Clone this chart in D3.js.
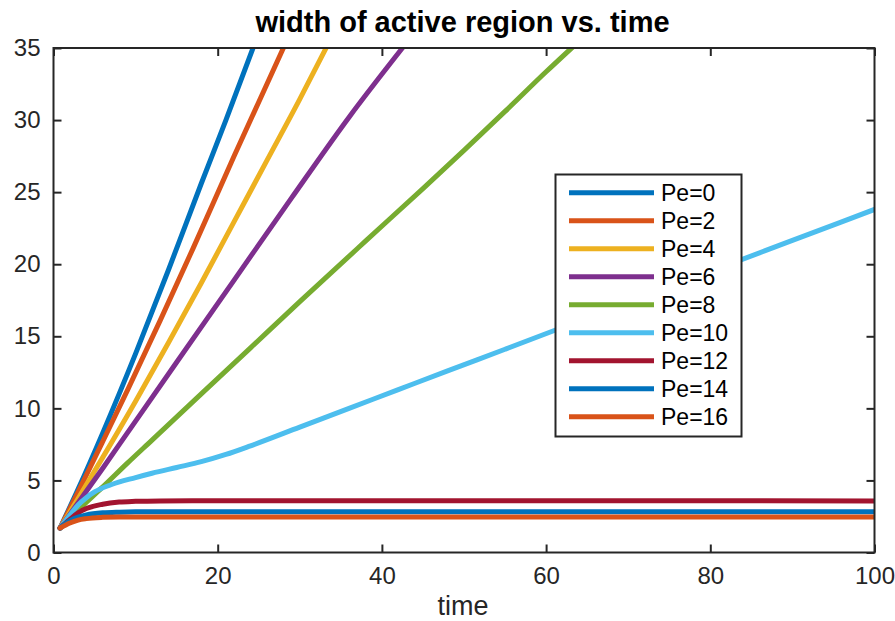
<!DOCTYPE html>
<html>
<head>
<meta charset="utf-8">
<script src="https://cdn.jsdelivr.net/npm/d3@7"></script>
<style>
  body { margin: 0; background: #fff; }
  text { font-family: "Liberation Sans", Arial, Helvetica, sans-serif; fill: #262626; }
</style>
</head>
<body>
<svg width="895" height="621"></svg>
<script>
// values (time, width)
var labels = ["Pe=0", "Pe=2", "Pe=4", "Pe=6", "Pe=8", "Pe=10", "Pe=12", "Pe=14", "Pe=16"];

var timePe0 = [0.8, 3, 6, 10, 14, 18, 21, 24.3];
var widthPe0 = [1.7, 4.4, 8.3, 13.8, 19.6, 25.6, 30.0, 35];

var timePe2 = [0.8, 3, 6, 9, 13, 17, 22, 28];
var widthPe2 = [1.7, 4.2, 7.7, 11.25, 16.1, 21.1, 27.5, 35];

var timePe4 = [0.8, 3, 6, 10, 14, 18, 22, 26, 30, 33.2];
var widthPe4 = [1.7, 3.75, 6.6, 10.5, 14.55, 18.7, 22.95, 27.2, 31.45, 35];

var timePe6 = [0.8, 3, 6, 9, 15, 22, 29, 36, 42.5];
var widthPe6 = [1.7, 3.45, 5.85, 8.3, 13.2, 18.9, 24.6, 30.2, 35];

var timePe8 = [0.8, 3, 6, 9, 12, 18, 24, 30, 38, 45, 50, 55, 60, 63.3];
var widthPe8 = [1.7, 2.95, 4.55, 6.2, 7.8, 11.0, 14.2, 17.4, 21.6, 25.25, 27.9, 30.6, 33.35, 35.1];

var timePe10 = [0.8, 2, 3, 4, 5, 7, 10, 12, 15, 18, 21, 24, 30, 36, 42, 48, 55, 61, 70, 80, 90, 100];
var widthPe10 = [1.7, 2.6, 3.3, 3.8, 4.2, 4.7, 5.2, 5.5, 5.9, 6.3, 6.8, 7.4, 8.7, 10.0, 11.3, 12.6, 14.1, 15.4, 17.4, 19.5, 21.65, 23.8];

var timePe12 = [0.8, 2, 3, 4, 6, 8, 10, 13, 20, 100];
var widthPe12 = [1.7, 2.3, 2.75, 3.05, 3.35, 3.5, 3.55, 3.58, 3.59, 3.58];

var timePe14 = [0.8, 2, 3, 4, 6, 8, 10, 100];
var widthPe14 = [1.7, 2.2, 2.45, 2.6, 2.75, 2.8, 2.82, 2.82];

var timePe16 = [0.8, 2, 3, 4, 6, 8, 100];
var widthPe16 = [1.7, 2.05, 2.25, 2.35, 2.44, 2.47, 2.47];

var xTicks = [0, 20, 40, 60, 80, 100];
var yTicks = [0, 5, 10, 15, 20, 25, 30, 35];

var colors = ["#0072BD", "#D95319", "#EDB120", "#7E2F8E", "#77AC30", "#4DBEEE", "#A2142F", "#0072BD", "#D95319"];

var times = [timePe0, timePe2, timePe4, timePe6, timePe8, timePe10, timePe12, timePe14, timePe16];
var widths = [widthPe0, widthPe2, widthPe4, widthPe6, widthPe8, widthPe10, widthPe12, widthPe14, widthPe16];

var series = labels.map(function(l, i) {
  return { label: l, color: colors[i], pts: times[i].map(function(t, j) { return [t, widths[i][j]]; }) };
});

var plotLeft = 53.5, plotRight = 874.5, plotTop = 48, plotBottom = 552.5;
var svg = d3.select("svg");

var x = d3.scaleLinear().domain([0, 100]).range([plotLeft, plotRight]);
var y = d3.scaleLinear().domain([0, 35]).range([plotBottom, plotTop]);

svg.append("clipPath").attr("id", "plotclip")
  .append("rect").attr("x", plotLeft).attr("y", plotTop)
  .attr("width", plotRight - plotLeft).attr("height", plotBottom - plotTop);

var line = d3.line()
  .x(function(d) { return x(d[0]); })
  .y(function(d) { return y(d[1]); })
  .curve(d3.curveMonotoneX);

svg.append("g").attr("clip-path", "url(#plotclip)")
  .selectAll("path")
  .data(series)
  .join("path")
  .attr("d", function(d) { return line(d.pts); })
  .attr("fill", "none")
  .attr("stroke", function(d) { return d.color; })
  .attr("stroke-width", 5)
  .attr("stroke-linejoin", "round")
  .attr("stroke-linecap", "round");

// axes, ticks inward on all four sides
var axisColor = "#262626";
var tickLen = 8;

function styleAxis(g) {
  g.select(".domain").remove();
  g.selectAll("line").attr("stroke", axisColor).attr("stroke-width", 2);
  g.selectAll("text").attr("font-size", 24).attr("fill", axisColor).attr("font-family", null);
}

svg.append("g").attr("transform", "translate(0," + plotBottom + ")")
  .call(d3.axisBottom(x).tickValues(xTicks).tickSize(-tickLen).tickPadding(14))
  .call(styleAxis);

svg.append("g").attr("transform", "translate(0," + plotTop + ")")
  .call(d3.axisTop(x).tickValues(xTicks).tickSize(-tickLen).tickFormat(""))
  .call(styleAxis);

svg.append("g").attr("transform", "translate(" + plotLeft + ",0)")
  .call(d3.axisLeft(y).tickValues(yTicks).tickSize(-tickLen).tickPadding(13))
  .call(styleAxis);

svg.append("g").attr("transform", "translate(" + plotRight + ",0)")
  .call(d3.axisRight(y).tickValues(yTicks).tickSize(-tickLen).tickFormat(""))
  .call(styleAxis);

svg.append("rect")
  .attr("x", plotLeft).attr("y", plotTop)
  .attr("width", plotRight - plotLeft).attr("height", plotBottom - plotTop)
  .attr("fill", "none").attr("stroke", axisColor).attr("stroke-width", 2);

// title and label
svg.append("text")
  .attr("x", 462.5).attr("y", 32)
  .attr("text-anchor", "middle")
  .attr("font-size", 29).attr("font-weight", "bold")
  .style("fill", "#000")
  .text("width of active region vs. time");

svg.append("text")
  .attr("x", 463).attr("y", 615)
  .attr("text-anchor", "middle")
  .attr("font-size", 27)
  .text("time");

// legend
var legend = svg.append("g");
legend.append("rect")
  .attr("x", 555.5).attr("y", 174.5).attr("width", 186).attr("height", 262)
  .attr("fill", "#fff").attr("stroke", axisColor).attr("stroke-width", 2);

var rows = legend.selectAll("g.row")
  .data(series)
  .join("g").attr("class", "row")
  .attr("transform", function(d, i) { return "translate(0," + (192.7 + i * 28) + ")"; });

rows.append("line")
  .attr("x1", 569).attr("x2", 654)
  .attr("stroke", function(d) { return d.color; })
  .attr("stroke-width", 5);

rows.append("text")
  .attr("x", 661).attr("y", 8)
  .attr("font-size", 23)
  .style("fill", "#000")
  .text(function(d) { return d.label; });
</script>
</body>
</html>
